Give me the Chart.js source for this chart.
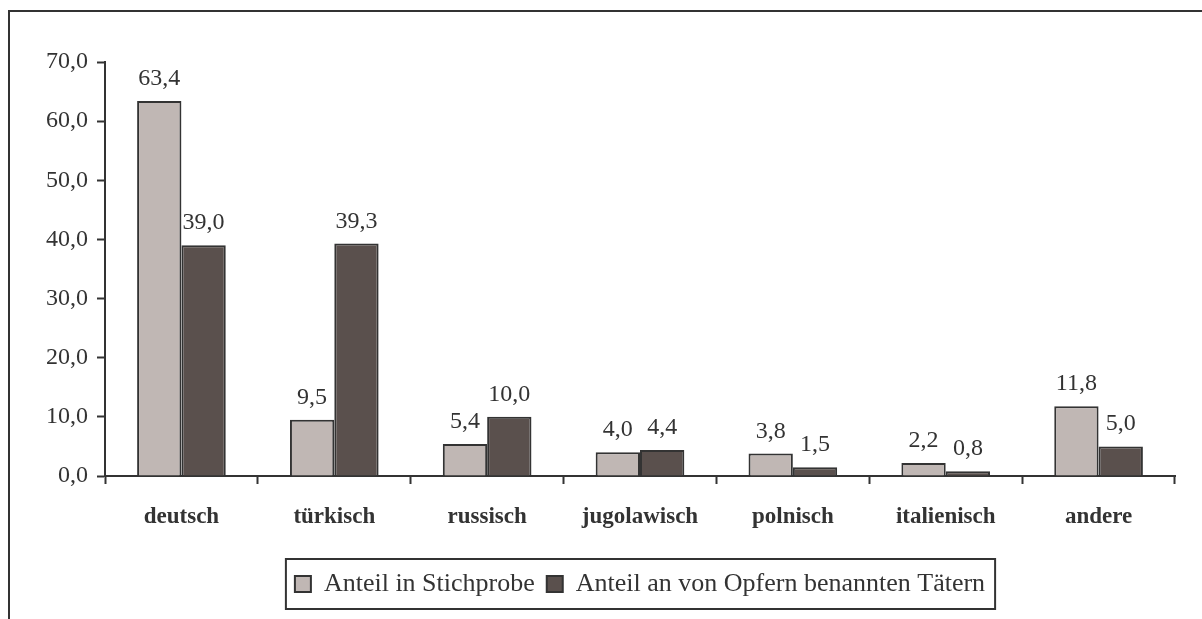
<!DOCTYPE html>
<html>
<head>
<meta charset="utf-8">
<script src="https://cdn.jsdelivr.net/npm/chart.js@4.4.0/dist/chart.umd.min.js"></script>
<style>
    body { margin: 0; background: #fff; }
    #wrap { position: relative; width: 1202px; height: 619px; }
    #frame {
        position: absolute; left: 8px; top: 10px; width: 1194px; height: 609px;
        border-top: 2px solid #333; border-left: 2px solid #333; box-sizing: border-box;
    }
    canvas { position: absolute; left: 0; top: 0; }
</style>
</head>
<body>
<div id="wrap">
    <div id="frame"></div>
    <canvas id="chart" width="1202" height="619"></canvas>
</div>
<script>
// Data
const categories = ["deutsch", "türkisch", "russisch", "jugolawisch", "polnisch", "italienisch", "andere"];
const sampleShare = [63.4, 9.5, 5.4, 4.0, 3.8, 2.2, 11.8];
const offenderShare = [39.0, 39.3, 10.0, 4.4, 1.5, 0.8, 5.0];
const seriesNames = ["Anteil in Stichprobe", "Anteil an von Opfern benannten Tätern"];
const yTicks = [0, 10, 20, 30, 40, 50, 60, 70];

const serif = "'Liberation Serif', 'Times New Roman', serif";
const fmt = v => v.toFixed(1).replace(".", ",");

// Draws the value above every bar
const valueLabels = {
    id: "valueLabels",
    afterDatasetsDraw(chart) {
        const ctx = chart.ctx;
        ctx.save();
        ctx.font = "24px " + serif;
        ctx.fillStyle = "#333";
        ctx.textAlign = "center";
        ctx.textBaseline = "alphabetic";
        chart.data.datasets.forEach((ds, i) => {
            chart.getDatasetMeta(i).data.forEach((bar, j) => {
                ctx.fillText(fmt(ds.data[j]), bar.x, bar.y - 16);
            });
        });
        ctx.restore();
    }
};

// Box around the legend entries
const legendBorder = {
    id: "legendBorder",
    afterDraw(chart) {
        const boxes = chart.legend.legendHitBoxes;
        if (!boxes || !boxes.length) return;
        const left = Math.min(...boxes.map(b => b.left)) - 9;
        const right = Math.max(...boxes.map(b => b.left + b.width)) + 10;
        const top = Math.min(...boxes.map(b => b.top)) - 12;
        const bottom = Math.max(...boxes.map(b => b.top + b.height)) + 12;
        const ctx = chart.ctx;
        ctx.save();
        ctx.strokeStyle = "#333";
        ctx.lineWidth = 2;
        ctx.strokeRect(left, top, right - left, bottom - top);
        ctx.restore();
    }
};

new Chart(document.getElementById("chart"), {
    type: "bar",
    data: {
        labels: categories,
        datasets: [{
            label: seriesNames[0],
            data: sampleShare,
            backgroundColor: "#c0b7b4",
            borderColor: "#333",
            borderWidth: 2,
            categoryPercentage: 0.58,
            barPercentage: 1.0
        }, {
            label: seriesNames[1],
            data: offenderShare,
            backgroundColor: "#5a504d",
            borderColor: "#333",
            borderWidth: 2,
            categoryPercentage: 0.58,
            barPercentage: 1.0
        }]
    },
    options: {
        responsive: false,
        animation: false,
        layout: {
            padding: { left: 10, top: 62, right: 27, bottom: 12 }
        },
        scales: {
            x: {
                grid: {
                    offset: true,
                    drawOnChartArea: false,
                    tickLength: 8,
                    tickColor: "#333",
                    tickWidth: 2
                },
                border: { color: "#333", width: 2 },
                ticks: {
                    color: "#333",
                    padding: 19,
                    font: { family: serif, size: 23, weight: "bold" }
                },
                afterFit(scale) { scale.height = 83; }
            },
            y: {
                min: 0,
                max: 70,
                afterBuildTicks(scale) {
                    scale.ticks = yTicks.map(v => ({ value: v }));
                },
                grid: {
                    drawOnChartArea: false,
                    tickLength: 8,
                    tickColor: "#333",
                    tickWidth: 2
                },
                border: { color: "#333", width: 2 },
                ticks: {
                    color: "#333",
                    padding: 9,
                    font: { family: serif, size: 24 },
                    callback: v => fmt(v)
                },
                afterFit(scale) { scale.width = 95; }
            }
        },
        plugins: {
            legend: {
                position: "bottom",
                fullSize: false,
                labels: {
                    color: "#333",
                    boxWidth: 16,
                    boxHeight: 16,
                    padding: 12,
                    font: { family: serif, size: 26 }
                }
            },
            tooltip: { enabled: false }
        }
    },
    plugins: [valueLabels, legendBorder]
});
</script>
</body>
</html>
